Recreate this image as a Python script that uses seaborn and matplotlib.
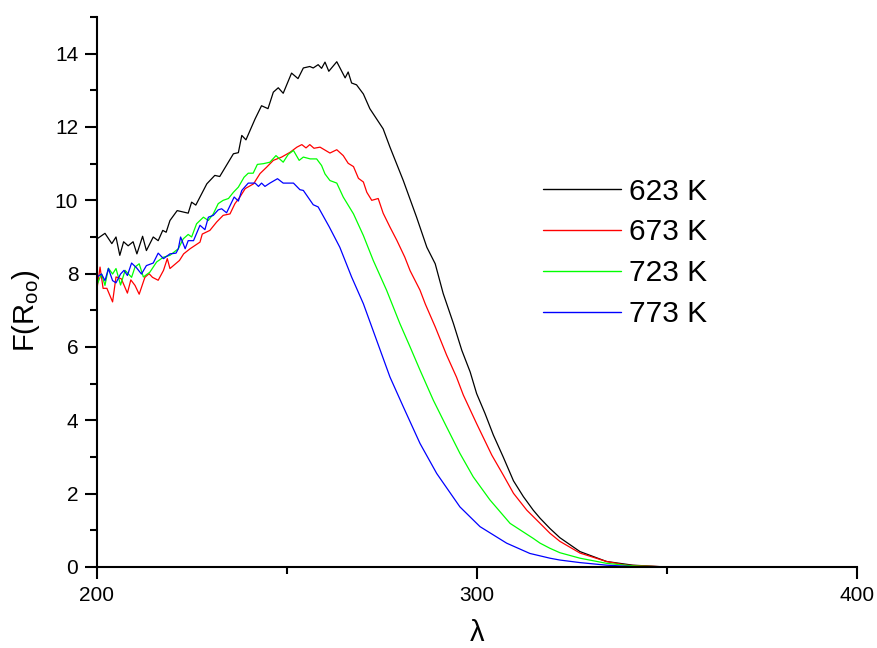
import matplotlib
matplotlib.use("Agg")
import matplotlib.pyplot as plt
import seaborn as sns
import pandas as pd
from matplotlib.ticker import MultipleLocator

labels = ["623 K", "673 K", "723 K", "773 K"]
colors = ["#000000", "#ff0000", "#00ff00", "#0000ff"]

lam_623 = [200, 202.1, 203.9, 205, 206, 207, 208.2, 209.5, 210.5, 212, 213, 214.8, 216.1, 217.3, 218.2,
           219.2, 221.1, 224, 224.9, 226, 228.9, 231, 232.3, 235.9, 237.2, 238.1, 239.2, 241.6, 243.3, 245,
           246.4, 247.7, 249, 251.2, 252.9, 254.3, 256, 256.9, 258.2, 259.1, 260, 261, 263.1, 265.3, 266.1,
           267, 268.3, 270.1, 271.8, 275.3, 277.1, 280.6, 284.1, 286.8, 289, 291.1, 293.8, 296, 298.2, 299.9,
           302.1, 304.3, 306.9, 309.6, 312.2, 314.8, 316.6, 319.2, 321.8, 327.1, 334.1, 341, 350, 375, 400]
val_623 = [8.95, 9.1, 8.82, 9.0, 8.5, 8.87, 8.76, 8.87, 8.54, 9.02, 8.63, 9.0, 8.9, 9.18, 9.13,
           9.45, 9.72, 9.65, 9.95, 9.87, 10.45, 10.68, 10.65, 11.27, 11.3, 11.77, 11.65, 12.22, 12.58, 12.5,
           12.95, 13.07, 12.92, 13.47, 13.32, 13.61, 13.65, 13.61, 13.7, 13.6, 13.77, 13.52, 13.78, 13.34, 13.5,
           13.2, 13.15, 12.9, 12.5, 11.95, 11.45, 10.54, 9.54, 8.72, 8.27, 7.46, 6.64, 5.91, 5.32, 4.73,
           4.19, 3.6, 3.0, 2.35, 1.92, 1.55, 1.33, 1.05, 0.8, 0.42, 0.15, 0.05, 0.0, 0.0, 0.0]

lam_673 = [200, 200.8, 201.6, 202.6, 204.1, 205, 206.4, 208, 208.9, 210, 211.1, 212.6, 213.7, 214.6, 216.1,
           217.5, 218.5, 219.2, 221.7, 222.8, 224.5, 227.1, 227.7, 229.7, 231.5, 233.2, 235, 236.3, 237.6, 239,
           241.2, 242.9, 244.6, 246.4, 248.6, 250.8, 252.6, 253.9, 255, 256, 257.1, 258.7, 261.3, 263.1, 264.8,
           266.1, 267.5, 268.8, 270.1, 271, 272.3, 274, 275.3, 277.1, 278.9, 281, 282.4, 285, 286.4, 289,
           292, 294.6, 296.4, 299.9, 303.9, 306.9, 309.6, 313.1, 316.6, 319.2, 321.8, 327.1, 334.1, 339.3, 350,
           375, 400]
val_673 = [7.59, 8.18, 7.6, 7.6, 7.23, 7.91, 7.86, 7.47, 7.83, 7.68, 7.44, 7.9, 8.0, 7.9, 7.82,
           8.09, 8.41, 8.14, 8.36, 8.54, 8.68, 8.86, 9.08, 9.18, 9.41, 9.59, 9.63, 9.91, 10.09, 10.32,
           10.45, 10.73, 10.9, 11.09, 11.18, 11.31, 11.45, 11.52, 11.43, 11.52, 11.42, 11.45, 11.29, 11.38, 11.22,
           11.01, 10.92, 10.6, 10.5, 10.22, 10.0, 10.05, 9.65, 9.27, 8.91, 8.45, 8.08, 7.55, 7.17, 6.55,
           5.78, 5.18, 4.69, 3.91, 3.05, 2.51, 2.01, 1.55, 1.19, 0.92, 0.7, 0.38, 0.15, 0.05, 0.0,
           0.0, 0.0]

lam_723 = [200, 201.2, 202.1, 203, 204.1, 205, 206.2, 207.4, 209.1, 210, 211.1, 212.2, 213.9, 215.7, 217.5,
           219.2, 221.4, 222.7, 224, 224.9, 226.2, 228, 229.3, 230.6, 231.9, 233.2, 234.6, 235.9, 237.2, 238.7,
           239.8, 241.1, 242.2, 243.8, 245.5, 247.1, 249, 250.3, 251.7, 253.2, 254.3, 256.1, 257.8, 259.1, 260,
           261.3, 263.1, 264.8, 267.5, 270.1, 272.7, 276.2, 279.7, 282.4, 285, 288.5, 292, 295.5, 299, 303.4,
           308.7, 314.8, 316.6, 319.2, 321.8, 327.1, 334.1, 341, 350, 375, 400]
val_723 = [7.7, 7.99, 7.68, 8.15, 7.99, 8.14, 7.69, 8.09, 7.9, 8.18, 8.27, 7.91, 8.04, 8.32, 8.45,
           8.5, 8.68, 8.95, 9.07, 9.0, 9.36, 9.54, 9.45, 9.63, 9.91, 10.0, 10.05, 10.22, 10.36, 10.63,
           10.74, 10.74, 10.98, 11.0, 11.04, 11.22, 11.04, 11.25, 11.36, 11.09, 11.18, 11.13, 11.13, 10.95, 10.72,
           10.54, 10.47, 10.09, 9.63, 9.04, 8.36, 7.55, 6.64, 6.0, 5.37, 4.55, 3.82, 3.1, 2.46, 1.83,
           1.19, 0.78, 0.65, 0.51, 0.39, 0.24, 0.1, 0.03, 0.0, 0.0, 0.0]

lam_773 = [200, 201.2, 202.1, 203, 204.1, 205, 206.2, 207.1, 208, 209.1, 210.4, 211.7, 213, 214.8, 216.1,
           217.5, 219.2, 220.8, 221.4, 222, 223.2, 224, 225.4, 227.1, 228.4, 229.3, 230.6, 231.9, 232.8, 234.1,
           236.1, 237.2, 238.1, 239.8, 241.6, 242.5, 243.3, 244.2, 245.5, 247.5, 249, 251.7, 253.4, 254.3, 256.9,
           258.2, 261.1, 263.9, 267, 270.1, 273.6, 277.1, 280.6, 285, 289.4, 295.5, 300.8, 307.8, 313.9, 319.2,
           321.8, 327.1, 334.1, 341, 350, 375, 400]
val_773 = [7.91, 7.99, 7.81, 8.14, 7.81, 7.75, 7.99, 8.09, 7.95, 8.29, 8.16, 7.99, 8.22, 8.29, 8.56,
           8.41, 8.54, 8.56, 8.68, 9.0, 8.68, 8.9, 8.9, 9.32, 9.2, 9.54, 9.59, 9.74, 9.77, 9.66,
           10.09, 9.98, 10.27, 10.47, 10.47, 10.38, 10.47, 10.38, 10.47, 10.59, 10.47, 10.47, 10.29, 10.27, 9.88,
           9.82, 9.28, 8.72, 7.91, 7.18, 6.18, 5.18, 4.37, 3.37, 2.55, 1.64, 1.1, 0.65, 0.37, 0.24,
           0.19, 0.12, 0.05, 0.01, 0.0, 0.0, 0.0]

series = [(lam_623, val_623), (lam_673, val_673), (lam_723, val_723), (lam_773, val_773)]
frames = []
for lab, (lx, ly) in zip(labels, series):
    frames.append(pd.DataFrame({"lam": lx, "F": ly, "T": lab}))
df = pd.concat(frames, ignore_index=True)

sns.set_style("ticks", {"axes.edgecolor": "black", "text.color": "black",
                        "axes.labelcolor": "black", "xtick.color": "black",
                        "ytick.color": "black"})
plt.rcParams["font.family"] = ["Liberation Sans", "DejaVu Sans"]
plt.rcParams["mathtext.fontset"] = "custom"
plt.rcParams["mathtext.rm"] = "Liberation Sans"

fig = plt.figure(figsize=(8.77, 6.48), dpi=100)
ax = fig.add_axes([97 / 877, 1 - 567 / 648, 760 / 877, 550 / 648])

sns.lineplot(data=df, x="lam", y="F", hue="T", palette=colors, hue_order=labels,
             linewidth=0.9, ax=ax, sort=False, estimator=None)

ax.set_xlim(200, 400)
ax.set_ylim(0, 15)
ax.xaxis.set_major_locator(MultipleLocator(100))
ax.xaxis.set_minor_locator(MultipleLocator(50))
ax.yaxis.set_major_locator(MultipleLocator(2))
ax.yaxis.set_minor_locator(MultipleLocator(1))
for s in ["top", "right"]:
    ax.spines[s].set_visible(False)
for s in ["left", "bottom"]:
    ax.spines[s].set_linewidth(1.5)
ax.tick_params(which="major", direction="out", length=8.5, width=1.5, labelsize=15, pad=5)
ax.tick_params(which="minor", direction="out", length=5, width=1.5)

ax.set_xlabel("λ", fontsize=21, labelpad=10)
ax.set_ylabel(r"F(R$_{\mathrm{oo}}$)", fontsize=21, labelpad=9)
ax.yaxis.label.set_y(0.465)

leg = ax.legend(loc="upper left", bbox_to_anchor=(0.587, 0.708), frameon=False,
                fontsize=21.5, handlelength=2.6, handletextpad=0.26, labelspacing=0.43,
                borderpad=0, borderaxespad=0, title=None)
for h in leg.get_lines():
    h.set_linewidth(1.0)

fig.savefig("out.png", dpi=100)
